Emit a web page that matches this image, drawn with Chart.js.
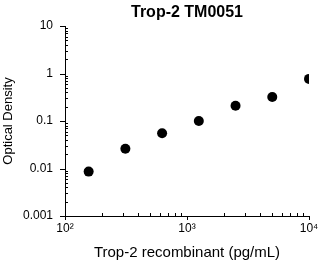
<!DOCTYPE html>
<html>
<head>
<meta charset="utf-8">
<script src="https://cdn.jsdelivr.net/npm/chart.js@4.4.1/dist/chart.umd.min.js"></script>
<style>
html, body { margin: 0; padding: 0; background: #fff; }
</style>
</head>
<body>
<canvas id="c" width="324" height="266"></canvas>
<script>
// data
var conc = [156.25, 312.5, 625, 1250, 2500, 5000, 10000];
var od = [0.0086, 0.026, 0.055, 0.10, 0.21, 0.32, 0.77];

// tick positions (decades + minor)
var xTicks = [100, 200, 300, 400, 500, 600, 700, 800, 900,
              1000, 2000, 3000, 4000, 5000, 6000, 7000, 8000, 9000, 10000];
var yTicks = [0.001, 0.002, 0.003, 0.004, 0.005, 0.006, 0.007, 0.008, 0.009,
              0.01, 0.02, 0.03, 0.04, 0.05, 0.06, 0.07, 0.08, 0.09,
              0.1, 0.2, 0.3, 0.4, 0.5, 0.6, 0.7, 0.8, 0.9,
              1, 2, 3, 4, 5, 6, 7, 8, 9, 10];
var xLabels = { 100: '10\u00B2', 1000: '10\u00B3', 10000: '10\u2074' };
var yLabels = { 0.001: '0.001', 0.01: '0.01', 0.1: '0.1', 1: '1', 10: '10' };

var FONT = "'Liberation Sans', Arial, sans-serif";

function isDecade(v) {
    var l = Math.log10(v);
    return Math.abs(l - Math.round(l)) < 1e-9;
}

// minor ticks point inward, decade ticks outward
var tickMarks = {
    id: 'tickMarks',
    afterDraw: function(chart) {
        var ctx = chart.ctx, x = chart.scales.x, y = chart.scales.y;
        ctx.save();
        ctx.strokeStyle = '#000';
        ctx.lineWidth = 1;
        x.ticks.forEach(function(t) {
            var px = Math.round(x.getPixelForValue(t.value)) + 0.5;
            ctx.beginPath();
            if (isDecade(t.value)) { ctx.moveTo(px, x.top); ctx.lineTo(px, x.top + 4); }
            else { ctx.moveTo(px, x.top); ctx.lineTo(px, x.top - 3); }
            ctx.stroke();
        });
        y.ticks.forEach(function(t) {
            var py = Math.round(y.getPixelForValue(t.value)) + 0.5;
            ctx.beginPath();
            if (isDecade(t.value)) { ctx.moveTo(y.right, py); ctx.lineTo(y.right - 5, py); }
            else { ctx.moveTo(y.right, py); ctx.lineTo(y.right + 3, py); }
            ctx.stroke();
        });
        ctx.restore();
    }
};

new Chart(document.getElementById('c'), {
    type: 'scatter',
    data: {
        datasets: [{
            data: conc.map(function(c, i) { return { x: c, y: od[i] }; }),
            backgroundColor: '#000',
            borderColor: '#000',
            borderWidth: 0,
            pointRadius: 5,
            pointHoverRadius: 5,
            showLine: false
        }]
    },
    options: {
        responsive: false,
        animation: false,
        events: [],
        layout: { padding: { left: 0, right: 15, top: 0, bottom: 0 } },
        plugins: {
            legend: { display: false },
            tooltip: { enabled: false },
            title: {
                display: true,
                text: 'Trop-2 TM0051',
                color: '#000',
                fullSize: false,
                font: { family: FONT, size: 16, weight: 'bold' },
                padding: { top: 2.5, bottom: 4.3 }
            }
        },
        scales: {
            x: {
                type: 'logarithmic',
                min: 100,
                max: 10000,
                afterBuildTicks: function(s) { s.ticks = xTicks.map(function(v) { return { value: v }; }); },
                afterFit: function(s) { s.height = 50; },
                grid: { display: false, drawTicks: false },
                border: { display: true, color: '#000', width: 1 },
                ticks: {
                    autoSkip: false,
                    maxRotation: 0,
                    padding: 5,
                    color: '#000',
                    font: { family: FONT, size: 12 },
                    callback: function(v) { return xLabels[v] || ''; }
                },
                title: {
                    display: true,
                    text: 'Trop-2 recombinant (pg/mL)',
                    color: '#000',
                    font: { family: FONT, size: 15 },
                    padding: { top: 0, bottom: 4 }
                }
            },
            y: {
                type: 'logarithmic',
                min: 0.001,
                max: 10,
                afterBuildTicks: function(s) { s.ticks = yTicks.map(function(v) { return { value: v }; }); },
                afterFit: function(s) { s.width = 65; },
                grid: { display: false, drawTicks: false },
                border: { display: true, color: '#000', width: 1 },
                ticks: {
                    autoSkip: false,
                    padding: 12,
                    color: '#000',
                    font: { family: FONT, size: 12 },
                    callback: function(v) { return yLabels[v] || ''; }
                },
                title: {
                    display: true,
                    text: 'Optical Density',
                    color: '#000',
                    font: { family: FONT, size: 13 },
                    padding: { top: 1, bottom: 0 }
                }
            }
        }
    },
    plugins: [tickMarks]
});
</script>
</body>
</html>
